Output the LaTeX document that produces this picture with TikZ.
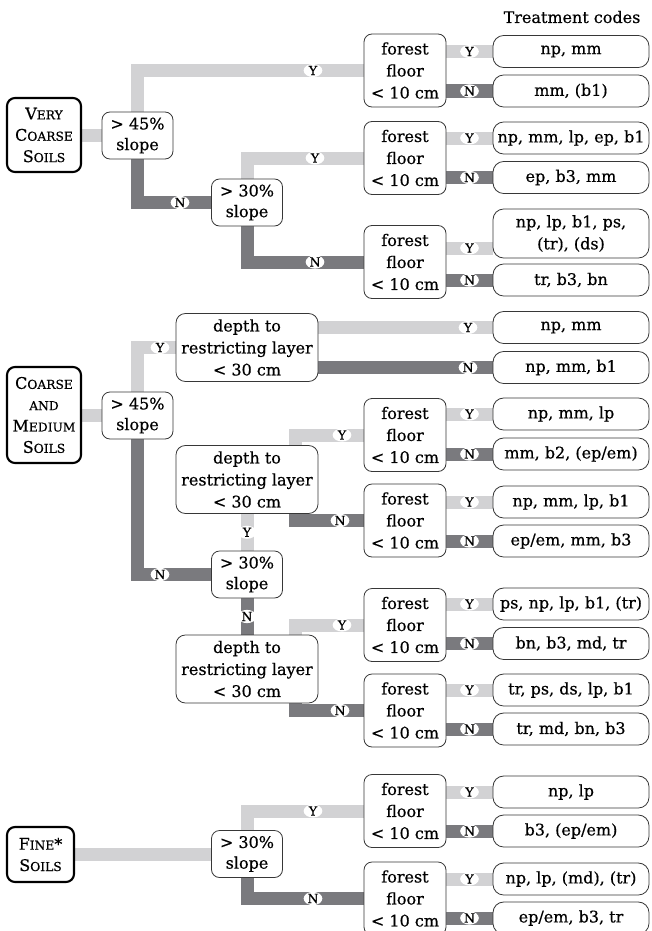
\documentclass[tikz,border=0pt]{standalone}
\usepackage{fontspec}
\setmainfont{DejaVu Serif}[FakeBold=0.5]
\usetikzlibrary{calc,shapes.geometric}
\definecolor{barlight}{RGB}{210,210,212}
\definecolor{bardark}{RGB}{122,122,126}
\definecolor{boxline}{RGB}{55,55,55}
\newcommand\smc[1]{{\fontsize{9.2}{10}\selectfont #1}}
\pgfdeclarelayer{bg}
\pgfsetlayers{bg,main}
\begin{document}
\begin{tikzpicture}[x=0.75pt,y=-0.75pt,
  base/.style={draw=boxline, line width=0.6pt, fill=white, align=center, inner sep=0pt, font=\fontsize{12}{16.5}\selectfont},
  soil/.style={base, draw=black, line width=1.6pt, rounded corners=6pt, font=\fontsize{12}{16}\selectfont},
  slopebox/.style={base, rounded corners=6pt, minimum width=53.25pt, minimum height=35.25pt, font=\fontsize{12}{15.5}\selectfont},
  depthbox/.style={base, rounded corners=7pt, minimum width=106.5pt, minimum height=51pt},
  ffbox/.style={base, rounded corners=6pt, minimum width=61.5pt, minimum height=54.75pt},
  resbox/.style={base, rounded corners=8pt, minimum width=117pt, minimum height=24pt},
  lbar/.style={draw=barlight, line width=9.75pt, line join=miter},
  dbar/.style={draw=bardark, line width=9.75pt, line join=miter},
  lbl/.style={ellipse, fill=white, inner sep=0pt, minimum width=14pt, minimum height=9.75pt, font=\fontsize{9.5}{10}\selectfont},
]
\useasboundingbox (0,0) rectangle (651,931);
\clip (0,0) rectangle (651,931);

\node[font=\fontsize{12}{14}\selectfont] (tc) at (572,17) {Treatment codes};

% ---------- Very coarse soils ----------
\node[soil, minimum width=55.5pt, minimum height=55.5pt] (vcs) at (44,135) {V\smc{ERY}\\C\smc{OARSE}\\S\smc{OILS}};
\node[slopebox] (sa) at (137.5,135.5) {> 45\%\\slope};
\node[slopebox] (sb) at (247,202.5) {> 30\%\\slope};
\node[ffbox] (f1) at (405,70.5) {forest\\floor\\< 10 cm};
\node[ffbox] (f2) at (405,158) {forest\\floor\\< 10 cm};
\node[ffbox] (f3) at (405,262) {forest\\floor\\< 10 cm};
\node[resbox] (r1) at (571,51.5) {np, mm};
\node[resbox] (r2) at (571,91) {mm, (b1)};
\node[resbox] (r3) at (571,138) {np, mm, lp, ep, b1};
\node[resbox] (r4) at (571,177.5) {ep, b3, mm};
\node[resbox, minimum height=36.75pt] (r5) at (571,233.5) {np, lp, b1, ps,\\(tr), (ds)};
\node[resbox] (r6) at (571,280) {tr, b3, bn};
\coordinate (y5) at (0,248);

% ---------- Coarse and medium soils ----------
\node[soil, minimum width=55.5pt, minimum height=72pt] (cms) at (44,415) {C\smc{OARSE}\\\smc{AND}\\M\smc{EDIUM}\\S\smc{OILS}};
\node[slopebox] (sc) at (137.5,415.5) {> 45\%\\slope};
\node[depthbox] (d1) at (247,347.5) {depth to\\restricting layer\\< 30 cm};
\node[depthbox] (d2) at (247,479.5) {depth to\\restricting layer\\< 30 cm};
\node[slopebox] (sd) at (247,574.5) {> 30\%\\slope};
\node[depthbox] (d3) at (247,669) {depth to\\restricting layer\\< 30 cm};
\node[ffbox] (f4) at (405,435) {forest\\floor\\< 10 cm};
\node[ffbox] (f5) at (405,520.5) {forest\\floor\\< 10 cm};
\node[ffbox] (f6) at (405,625) {forest\\floor\\< 10 cm};
\node[ffbox] (f7) at (405,710.5) {forest\\floor\\< 10 cm};
\node[resbox] (r7) at (571,327.5) {np, mm};
\node[resbox] (r8) at (571,367.5) {np, mm, b1};
\node[resbox] (r9) at (571,414) {np, mm, lp};
\node[resbox] (r10) at (571,454) {mm, b2, (ep/em)};
\node[resbox] (r11) at (571,502) {np, mm, lp, b1};
\node[resbox] (r12) at (571,541) {ep/em, mm, b3};
\node[resbox] (r13) at (571,604) {ps, np, lp, b1, (tr)};
\node[resbox] (r14) at (571,643.5) {bn, b3, md, tr};
\node[resbox] (r15) at (571,690) {tr, ps, ds, lp, b1};
\node[resbox] (r16) at (571,729) {tr, md, bn, b3};

% ---------- Fine soils ----------
\node[soil, minimum width=50.25pt, minimum height=41.25pt] (fs) at (40.5,854.5) {F\smc{INE}*\\S\smc{OILS}};
\node[slopebox] (se) at (247,854) {> 30\%\\slope};
\node[ffbox] (f8) at (405,811) {forest\\floor\\< 10 cm};
\node[ffbox] (f9) at (405,898.5) {forest\\floor\\< 10 cm};
\node[resbox] (r17) at (571,792) {np, lp};
\node[resbox] (r18) at (571,831) {b3, (ep/em)};
\node[resbox] (r19) at (571,879) {np, lp, (md), (tr)};
\node[resbox] (r20) at (571,918) {ep/em, b3, tr};

% ---------- connectors ----------
\begin{pgfonlayer}{bg}
\draw[lbar] (vcs.east) -- (vcs.east -| sa.west);
\draw[lbar] (sa.north) |- (f1.west);
\draw[dbar] (sa.south) |- (sb.west);
\draw[lbar] (sb.north) |- (f2.west);
\draw[dbar] (sb.south) |- (f3.west);

\draw[lbar] (cms.east) -- (cms.east -| sc.west);
\draw[lbar] (sc.north) |- (d1.west);
\draw[dbar] (sc.south) |- (sd.west);
\draw[lbar] (d1.east |- r7.west) -- (r7.west);
\draw[dbar] (d1.east |- r8.west) -- (r8.west);
\draw[lbar] ($(d2.north east)+(-22.5,5)$) |- (f4.west);
\draw[dbar] ($(d2.south east)+(-22.5,-5)$) |- (f5.west);
\draw[lbar] (d2.south) -- (sd.north);
\draw[dbar] (sd.south) -- (d3.north);
\draw[lbar] ($(d3.north east)+(-22.5,5)$) |- (f6.west);
\draw[dbar] ($(d3.south east)+(-22.5,-5)$) |- (f7.west);

\draw[lbar] (fs.east) -- (fs.east -| se.west);
\draw[lbar] (se.north) |- (f8.west);
\draw[dbar] (se.south) |- (f9.west);

\foreach \f/\a/\b in {f1/r1/r2, f2/r3/r4, f4/r9/r10, f5/r11/r12, f6/r13/r14, f7/r15/r16, f8/r17/r18, f9/r19/r20}{
  \draw[lbar] (\f.east |- \a.west) -- (\a.west);
  \draw[dbar] (\f.east |- \b.west) -- (\b.west);
}
\draw[lbar] (f3.east |- y5) -- (r5.west |- y5);
\draw[dbar] (f3.east |- r6.west) -- (r6.west);
\end{pgfonlayer}

% ---------- Y / N labels ----------
\node[lbl] (la1) at (313,0 |- f1.west) {Y};
\node[lbl] (la2) at (180,0 |- sb.west) {N};
\node[lbl] (la3) at (315,0 |- f2.west) {Y};
\node[lbl] (la4) at (315,0 |- f3.west) {N};
\node[lbl] (lb1) at (160,0 |- d1.west) {Y};
\node[lbl] (lb2) at (160,0 |- sd.west) {N};
\node[lbl] (lb3) at (468,0 |- r7.west) {Y};
\node[lbl] (lb4) at (468,0 |- r8.west) {N};
\node[lbl] (lb5) at (342,0 |- f4.west) {Y};
\node[lbl] (lb6) at (340,0 |- f5.west) {N};
\node[lbl] (lb7) at ($(d2.south)!0.5!(sd.north)$) {Y};
\node[lbl] (lb8) at ($(sd.south)!0.5!(d3.north)$) {N};
\node[lbl] (lb9) at (342,0 |- f6.west) {Y};
\node[lbl] (lb10) at (340,0 |- f7.west) {N};
\node[lbl] (lc1) at (313,0 |- f8.west) {Y};
\node[lbl] (lc2) at (313,0 |- f9.west) {N};
\foreach \a/\b [count=\i] in {r1/r2, r3/r4, r9/r10, r11/r12, r13/r14, r15/r16, r17/r18, r19/r20}{
  \node[lbl] (ly\i) at (469.5,0 |- \a.west) {Y};
  \node[lbl] (ln\i) at (469.5,0 |- \b.west) {N};
}
\node[lbl] (ly5b) at (469.5,0 |- y5) {Y};
\node[lbl] (ln5b) at (469.5,0 |- r6.west) {N};
\end{tikzpicture}
\end{document}
